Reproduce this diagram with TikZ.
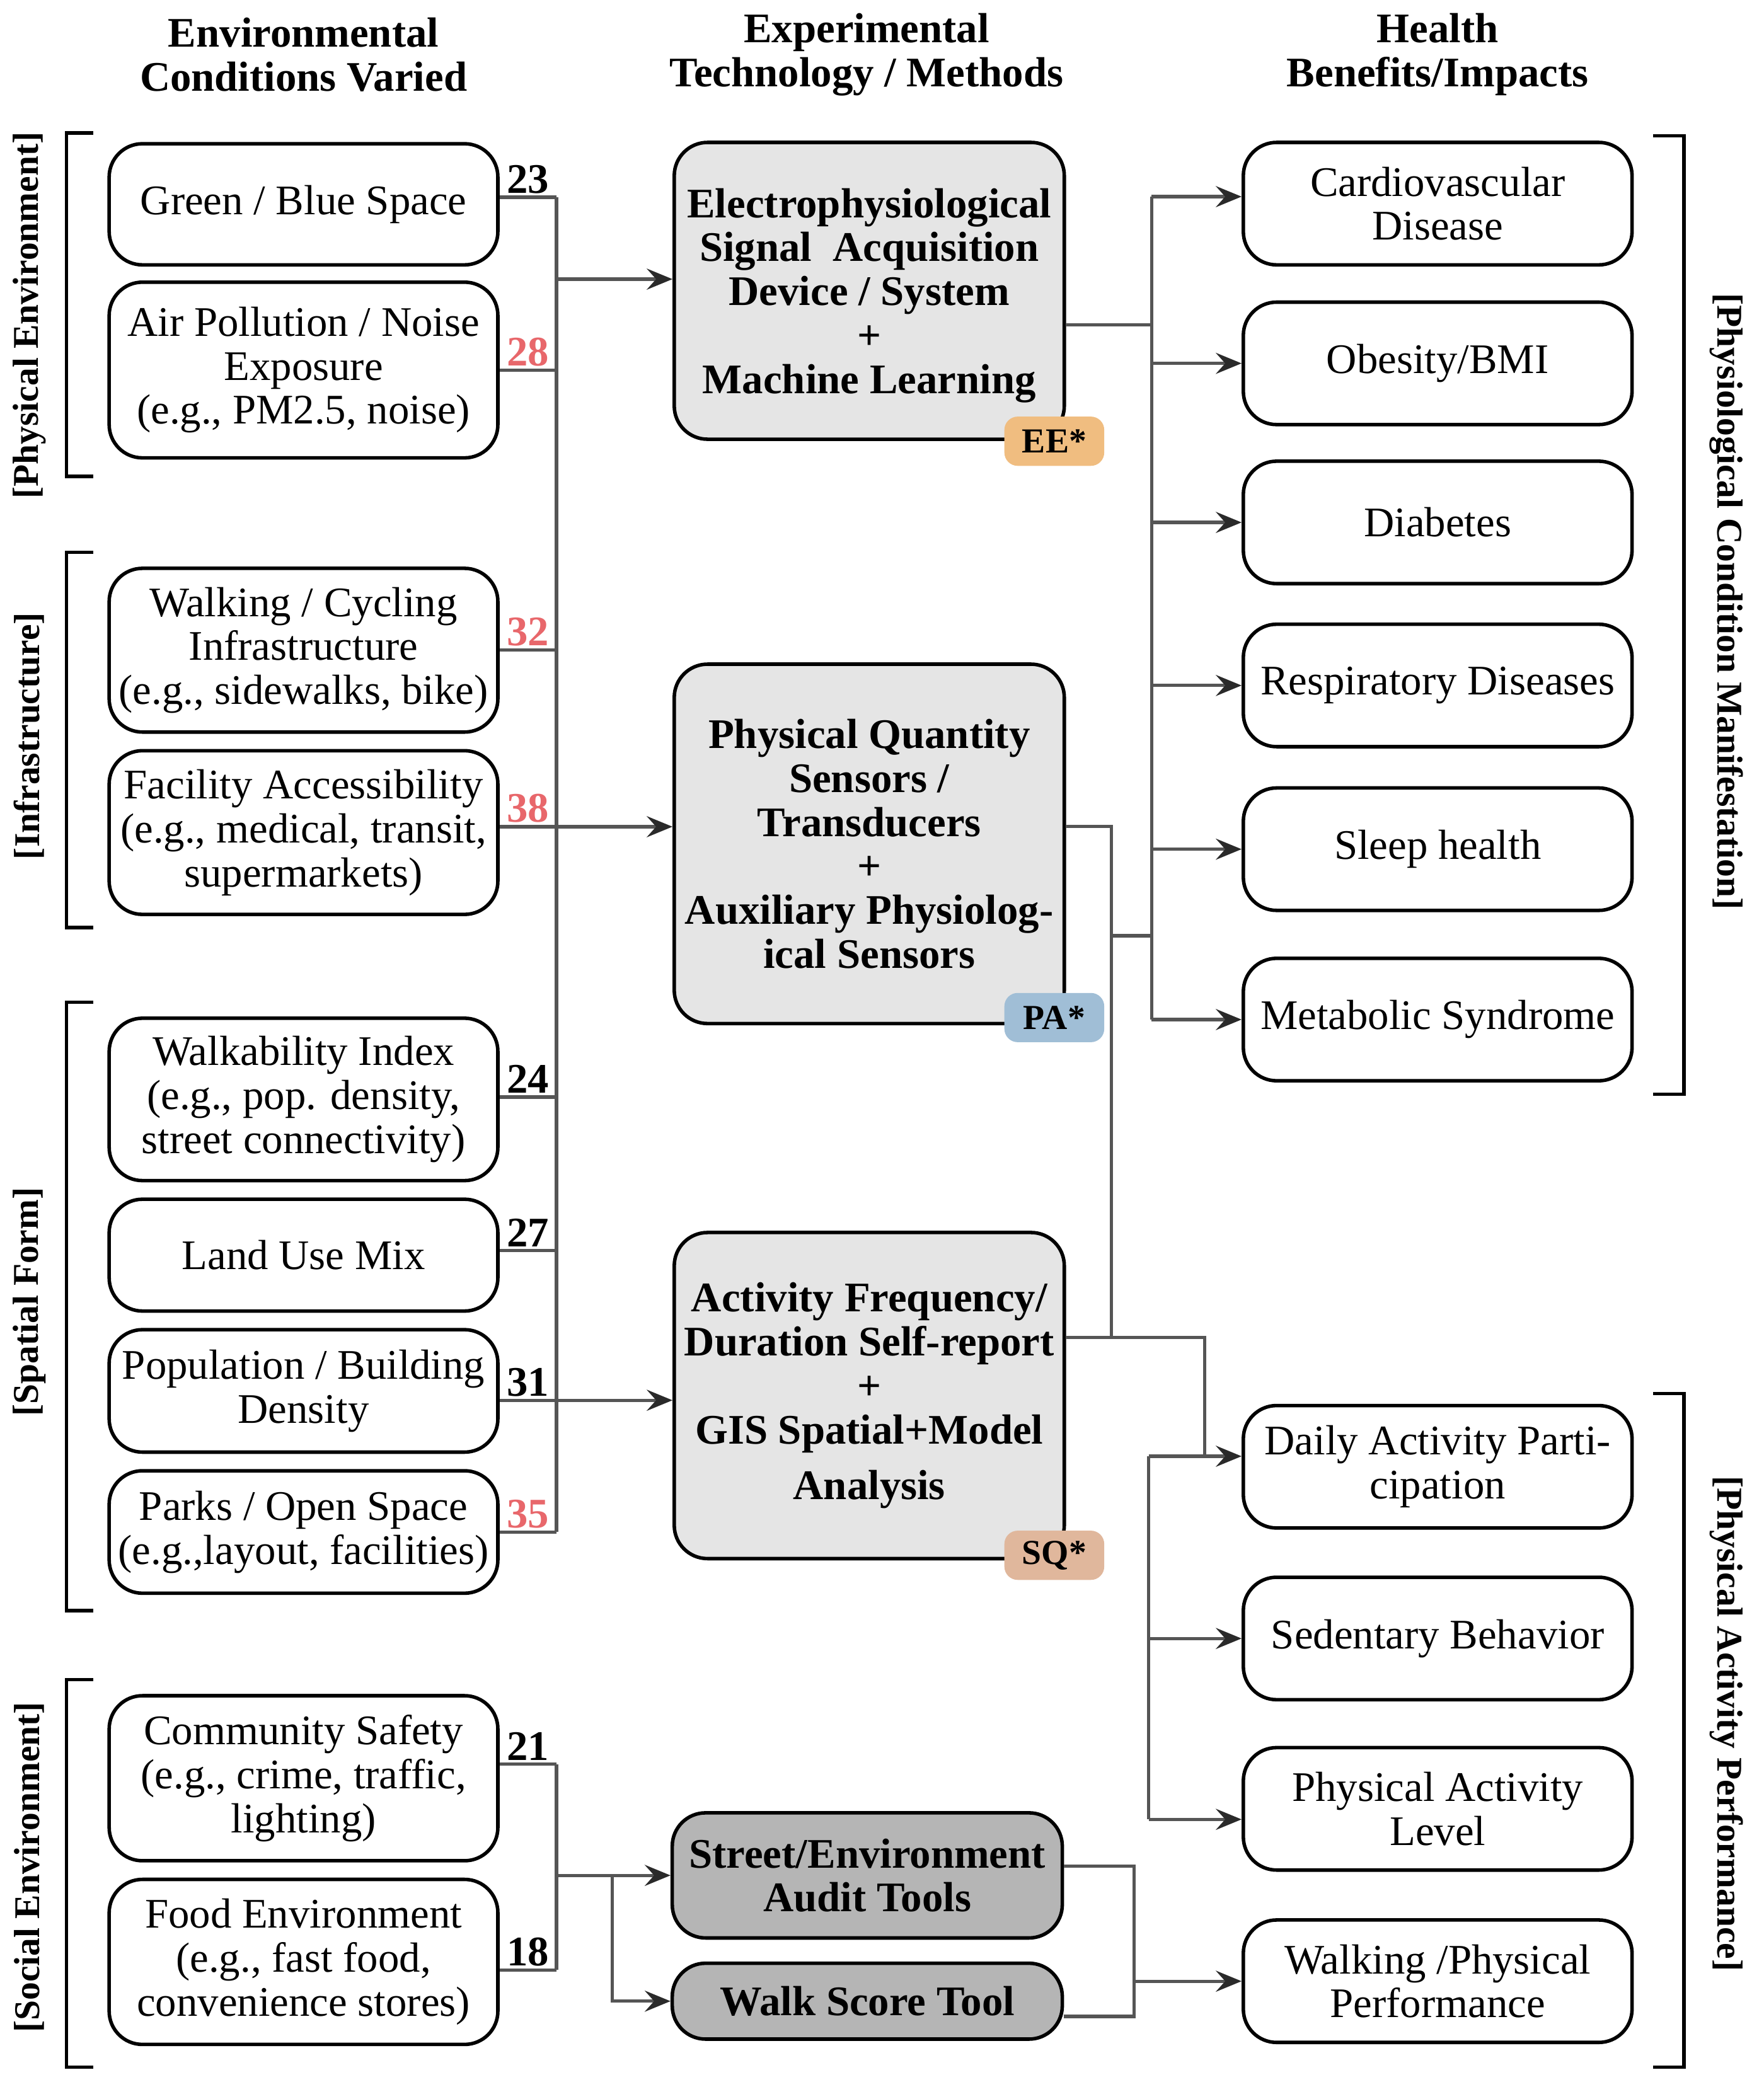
\documentclass[tikz,border=0pt]{standalone}
\usepackage{fontspec}
\setmainfont{Liberation Serif}
\usepackage{xcolor}
\usetikzlibrary{
    arrows.meta,
    calc,
    positioning
}
\definecolor{techgray}{HTML}{E5E5E5}
\definecolor{toolgray}{HTML}{B5B5B5}
\definecolor{linkgray}{HTML}{555555}
\definecolor{tipgray}{HTML}{2A2A2A}
\definecolor{numred}{HTML}{E8676B}
\definecolor{eeorange}{HTML}{F0BD80}
\definecolor{pablue}{HTML}{A0BED6}
\definecolor{sqsalmon}{HTML}{E0B79C}
\newcommand{\bodyfont}{\fontsize{18}{18.8}\selectfont}
\tikzset{
    envbox/.style={draw, line width=1.5pt, rounded corners=0.5cm, minimum width=5.84cm,
        align=center, inner sep=2pt, font=\bodyfont},
    techbox/.style={envbox, fill=techgray, minimum width=5.86cm, font=\bodyfont\bfseries},
    toolbox/.style={techbox, fill=toolgray},
    healthbox/.style={envbox, minimum height=1.84cm},
    badge/.style={fill=#1, rounded corners=0.2cm, minimum width=1.5cm, minimum height=0.74cm,
        inner sep=0pt, font=\fontsize{15}{15}\selectfont\bfseries},
    header/.style={align=center, font=\bodyfont\bfseries},
    num/.style={inner sep=1pt, font=\bodyfont\bfseries},
    link/.style={draw=linkgray, line width=1.4pt},
    arrowlink/.style={link, -{Stealth[length=11pt, width=9pt, inset=4pt, color=tipgray]}},
    bracket/.style={draw, line width=1.5pt},
    grouplabel/.style={font=\fontsize{15.5}{15.5}\selectfont\bfseries}
}

\begin{document}
\begin{tikzpicture}[x=0.2mm, y=-0.2mm]
    \useasboundingbox (0,0) rectangle (1325,1568);

    % column headers
    \node[header] (hdenv) at (228,41) {Environmental\\Conditions Varied};
    \node[header] (hdtech) at (651,41) {Experimental\\Technology / Methods};
    \node[header] (hdhealth) at (1080,41) {Health\\Benefits/Impacts};

    % environmental conditions
    \node[envbox, minimum height=1.82cm] (green) at (228,153.5) {Green / Blue Space};
    \node[envbox, minimum height=2.64cm] (air) at (228,278) {Air Pollution / Noise\\Exposure\\(e.g., PM2.5, noise)};
    \node[envbox, minimum height=2.46cm] (walking) at (228,488.5) {Walking / Cycling\\Infrastructure\\(e.g., sidewalks, bike)};
    \node[envbox, minimum height=2.46cm] (facility) at (228,625.5) {Facility Accessibility\\(e.g., medical, transit,\\supermarkets)};
    \node[envbox, minimum height=2.44cm] (walkability) at (228,826) {Walkability Index\\(e.g., pop. density,\\street connectivity)};
    \node[envbox, minimum height=1.68cm] (landuse) at (228,943) {Land Use Mix};
    \node[envbox, minimum height=1.84cm] (popdens) at (228,1045) {Population / Building\\Density};
    \node[envbox, minimum height=1.84cm] (parks) at (228,1151) {Parks / Open Space\\(e.g.,layout, facilities)};
    \node[envbox, minimum height=2.48cm] (community) at (228,1336) {Community Safety\\(e.g., crime, traffic,\\lighting)};
    \node[envbox, minimum height=2.48cm] (food) at (228,1474) {Food Environment\\(e.g., fast food,\\convenience stores)};

    % technology / methods
    \node[techbox, minimum height=4.46cm, text depth=-4pt] (ee) at (653,218.5) {Electrophysiological\\Signal~~Acquisition\\Device / System\\+\\Machine Learning};
    \node[techbox, minimum height=5.4cm] (pa) at (653,634) {Physical Quantity\\Sensors /\\Transducers\\+\\Auxiliary Physiolog-\\ical Sensors};
    \node[techbox, minimum height=4.9cm] (sq) at (653,1048.5) {Activity Frequency/\\Duration Self-report\\+\\GIS Spatial+Model\\[5pt]Analysis};
    \node[toolbox, minimum height=1.88cm] (street) at (651.5,1409) {Street/Environment\\Audit Tools};
    \node[toolbox, minimum height=1.14cm] (walk) at (651.5,1503.5) {Walk Score Tool};

    \node[badge=eeorange] (eetag) at (792,331.5) {EE*};
    \node[badge=pablue] (patag) at (792,764.5) {PA*};
    \node[badge=sqsalmon] (sqtag) at (792,1168.5) {SQ*};

    % health benefits
    \node[healthbox] (cardio) at (1080,153) {Cardiovascular\\Disease};
    \node[healthbox] (obesity) at (1080,273) {Obesity/BMI};
    \node[healthbox] (diabetes) at (1080,392.5) {Diabetes};
    \node[healthbox] (resp) at (1080,515) {Respiratory Diseases};
    \node[healthbox] (sleep) at (1080,638) {Sleep health};
    \node[healthbox] (metab) at (1080,766) {Metabolic Syndrome};
    \node[healthbox] (daily) at (1080,1102) {Daily Activity Parti-\\cipation};
    \node[healthbox] (sedentary) at (1080,1231) {Sedentary Behavior};
    \node[healthbox] (pal) at (1080,1359) {Physical Activity\\Level};
    \node[healthbox] (walkperf) at (1080,1488.5) {Walking /Physical\\Performance};

    % bus positions
    \coordinate (lbus) at (418,0);
    \coordinate (wbus) at (460,0);
    \coordinate (pbus) at (835,0);
    \coordinate (tbus) at (852,0);
    \coordinate (abus) at (863,0);
    \coordinate (hbus) at (865,0);
    \coordinate (sbus) at (905,0);

    % conditions -> methods
    \foreach \n/\v/\c/\s in {green/23/black/3pt, air/28/numred/0pt, walking/32/numred/0pt,
        facility/38/numred/2.5pt, walkability/24/black/1pt, landuse/27/black/2pt,
        popdens/31/black/-4pt, parks/35/numred/0pt}
        \draw[link] ([yshift=\s]\n.east) -- node[num, text=\c, above] {\v} ([yshift=\s]\n.east -| lbus);
    \draw[link] ([yshift=3pt]green.east -| lbus) -- (parks.east -| lbus);
    \draw[arrowlink] ([yshift=5pt]ee.west -| lbus) -- ([yshift=5pt]ee.west);
    \draw[arrowlink] ([yshift=2.5pt]facility.east -| lbus) -- ([yshift=2.5pt]facility.east -| pa.west);
    \draw[arrowlink] ([yshift=-4pt]popdens.east -| lbus) -- ([yshift=-4pt]popdens.east -| sq.west);

    \draw[link] ([yshift=6pt]community.east) -- node[num, above] {21} ([yshift=6pt]community.east -| lbus);
    \draw[link] ([yshift=-3.5pt]food.east) -- node[num, above] {18} ([yshift=-3.5pt]food.east -| lbus);
    \draw[link] ([yshift=6pt]community.east -| lbus) -- ([yshift=-3.5pt]food.east -| lbus);
    \draw[arrowlink] (lbus |- street.west) -- (street.west);
    \draw[arrowlink] (wbus |- street.west) |- (walk.west);

    % methods -> health
    \draw[link] ([yshift=-14.5pt]ee.east) -- ([yshift=-14.5pt]ee.east -| hbus);
    \draw[link] ([yshift=3pt]cardio.west -| hbus) -- (hbus |- metab.west);
    \draw[arrowlink] ([yshift=3pt]cardio.west -| hbus) -- ([yshift=3pt]cardio.west);
    \foreach \n in {obesity, diabetes, resp, sleep, metab}
        \draw[arrowlink] (hbus |- \n.west) -- (\n.west);

    \coordinate (paout) at ([yshift=7.5pt]pa.east);
    \coordinate (sqout) at ([yshift=24.8pt]sq.east);
    \coordinate (pajoin) at (835,703);
    \draw[link] (paout) -| (pbus |- sqout);
    \draw[link] (pajoin) -- (pajoin -| hbus);

    \draw[link] (sqout) -| ([yshift=4.5pt]daily.west -| sbus);
    \draw[arrowlink] ([yshift=4.5pt]daily.west -| abus) -- ([yshift=4.5pt]daily.west);
    \draw[link] ([yshift=4.5pt]daily.west -| abus) -- ([yshift=-4.5pt]pal.west -| abus);
    \draw[arrowlink] (abus |- sedentary.west) -- (sedentary.west);
    \draw[arrowlink] ([yshift=-4.5pt]pal.west -| abus) -- ([yshift=-4.5pt]pal.west);

    \draw[link] ([yshift=4pt]street.east) -| ([yshift=-6.5pt]walk.east -| tbus) -- ([yshift=-6.5pt]walk.east);
    \draw[arrowlink] (tbus |- walkperf.west) -- (walkperf.west);

    % group brackets
    \draw[bracket] (70,100) -- (50,100) -- (50,358) -- (70,358);
    \draw[bracket] (70,415) -- (50,415) -- (50,697) -- (70,697);
    \draw[bracket] (70,753) -- (50,753) -- (50,1210) -- (70,1210);
    \draw[bracket] (70,1262) -- (50,1262) -- (50,1553) -- (70,1553);
    \node[grouplabel, rotate=90] (lbphys) at (22,237) {[Physical Environment]};
    \node[grouplabel, rotate=90] (lbinfra) at (22,553) {[Infrastructure]};
    \node[grouplabel, rotate=90] (lbspatial) at (22,978) {[Spatial Form]};
    \node[grouplabel, rotate=90] (lbsocial) at (22,1403) {[Social Environment]};

    \draw[bracket] (1242,102) -- (1265,102) -- (1265,822) -- (1242,822);
    \draw[bracket] (1242,1047) -- (1265,1047) -- (1265,1553) -- (1242,1553);
    \node[grouplabel, rotate=-90] (lbcond) at (1297,452) {[Physiological Condition Manifestation]};
    \node[grouplabel, rotate=-90] (lbperf) at (1297,1295) {[Physical Activity Performance]};
\end{tikzpicture}
\end{document}
